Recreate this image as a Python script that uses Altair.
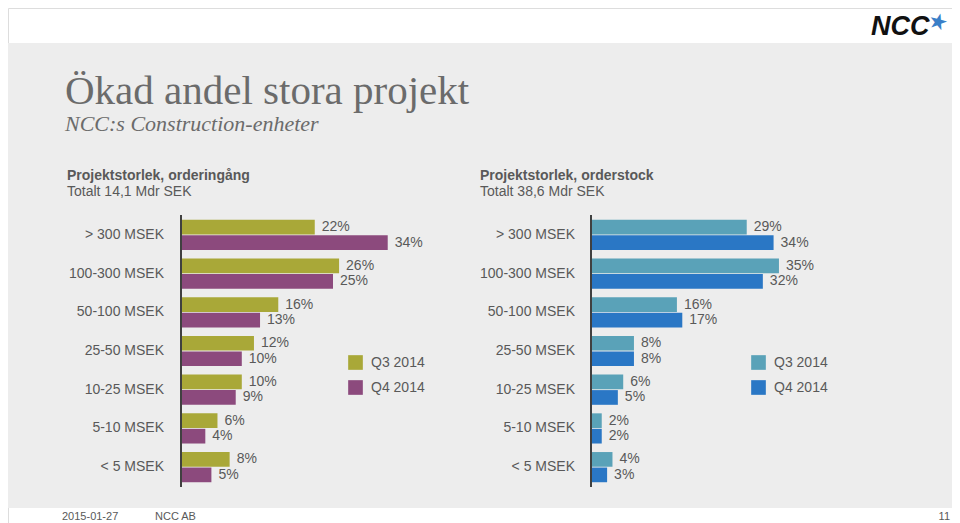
import altair as alt
import pandas as pd

categories = ["> 300 MSEK", "100-300 MSEK", "50-100 MSEK", "25-50 MSEK",
              "10-25 MSEK", "5-10 MSEK", "< 5 MSEK"]
series = ["Q3 2014", "Q4 2014"]
order_q3 = [22, 26, 16, 12, 10, 6, 8]
order_q4 = [34, 25, 13, 10, 9, 4, 5]
stock_q3 = [29, 35, 16, 8, 6, 2, 4]
stock_q4 = [34, 32, 17, 8, 5, 2, 3]
left_colors = ["#a9a838", "#8c4a7d"]
right_colors = ["#5aa2b8", "#2a77c5"]

FONT = "Liberation Sans, Arial, sans-serif"
SERIF = "Liberation Serif, Times New Roman, serif"
NARROW = "Liberation Sans Narrow, Arial Narrow, sans-serif"
TXT = "#595959"


def table(q3, q4):
    rows = []
    for c, a, b in zip(categories, q3, q4):
        rows.append({"cat": c, "series": series[0], "value": a, "label": f"{a}%"})
        rows.append({"cat": c, "series": series[1], "value": b, "label": f"{b}%"})
    return pd.DataFrame(rows)


left_df = table(order_q3, order_q4)
right_df = table(stock_q3, stock_q4)
cat_df = pd.DataFrame({"cat": categories})

yscale = alt.Scale(domain=categories, range=[207.5, 478.5], paddingInner=0.22, paddingOuter=0.11)
yoff = alt.Scale(domain=series, paddingInner=0.05, paddingOuter=0)


def panel(df, colors, x0, px_per_pct, legend_x, label_x, axis_x):
    xs = alt.Scale(domain=[0, 40], range=[x0, x0 + 40 * px_per_pct], nice=False, zero=True)
    base = alt.Chart(df)
    bars = base.mark_bar(size=14.7).encode(
        y=alt.Y("cat:N", scale=yscale, axis=None, sort=categories),
        yOffset=alt.YOffset("series:N", scale=yoff, sort=series),
        x=alt.X("value:Q", scale=xs, axis=None),
        color=alt.Color("series:N", scale=alt.Scale(domain=series, range=colors),
                        legend=alt.Legend(orient="none", legendX=legend_x, legendY=347,
                                          title=None, symbolType="square", symbolSize=215,
                                          symbolStrokeWidth=0, symbolOpacity=1,
                                          labelFontSize=14, labelFont=FONT, labelColor=TXT,
                                          labelOffset=8, rowPadding=10, padding=0)),
    )
    labels = base.mark_text(align="left", baseline="middle", dx=7, fontSize=14,
                            font=FONT, color=TXT).encode(
        y=alt.Y("cat:N", scale=yscale, axis=None, sort=categories),
        yOffset=alt.YOffset("series:N", scale=yoff, sort=series),
        x=alt.X("value:Q", scale=xs, axis=None),
        text="label:N",
    )
    cats = alt.Chart(cat_df).mark_text(align="right", baseline="middle", fontSize=14,
                                        font=FONT, color=TXT).encode(
        y=alt.Y("cat:N", scale=yscale, axis=None, sort=categories),
        x=alt.value(label_x),
        text="cat:N",
    )
    axis_line = alt.Chart(cat_df).mark_rule(color="#404040", strokeWidth=1.5).encode(
        x=alt.value(axis_x), y=alt.value(207), y2=alt.value(479))
    return alt.layer(bars, labels, cats, axis_line)


left = panel(left_df, left_colors, 173, 6.08, 340, 156, 173)
right = panel(right_df, right_colors, 583, 5.37, 743, 567, 583)


def txt(s, x, y, size=14, weight="normal", style="normal", font=FONT, color=TXT,
        align="left", baseline="alphabetic", angle=0):
    return alt.Chart(cat_df.head(1)).mark_text(
        text=s, fontSize=size, fontWeight=weight, fontStyle=style, font=font,
        color=color, align=align, baseline=baseline, angle=angle).encode(
        x=alt.value(x), y=alt.value(y))


bg = alt.Chart(cat_df.head(1)).mark_rect(color="#ededed").encode(
    x=alt.value(0), x2=alt.value(948), y=alt.value(35), y2=alt.value(500))

decor = alt.layer(
    bg,
    txt("Ökad andel stora projekt", 57, 96, size=41, font=SERIF, color="#6b6b6b"),
    txt("NCC:s Construction-enheter", 57, 123, size=22, style="italic", font=SERIF, color="#6b6b6b"),
    txt("Projektstorlek, orderingång", 59, 172, weight="bold"),
    txt("Totalt 14,1 Mdr SEK", 59, 188),
    txt("Projektstorlek, orderstock", 472, 172, weight="bold"),
    txt("Totalt 38,6 Mdr SEK", 472, 188),
    txt("2015-01-27", 54, 509, size=11, font=NARROW, baseline="middle"),
    txt("NCC AB", 147, 509, size=11, font=NARROW, baseline="middle"),
    txt("11", 942, 509, size=11, font=NARROW, align="right", baseline="middle"),
    txt("NCC", 863, 27, size=27, weight="bold", style="italic", font=FONT, color="#111111"),
    txt("★", 930, 14, size=22, font="DejaVu Sans", color="#3a7fc8", align="center",
        baseline="middle", angle=15),
)

chart = alt.layer(decor, left, right).resolve_scale(
    x="independent", color="independent"
).properties(
    width=944, height=515, autosize=alt.AutoSizeParams(type="none"), padding=0
).configure_view(stroke=None).configure(background="white")

chart.save("out.html", embed_options={"renderer": "svg", "actions": False})
